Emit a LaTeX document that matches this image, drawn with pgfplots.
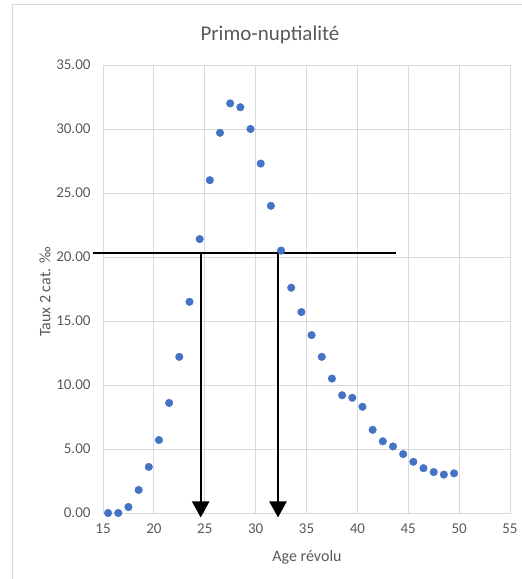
\documentclass[border=0pt]{standalone}
\usepackage{fontspec}
\setmainfont{Carlito}
\usepackage{pgfplots}
\pgfplotsset{compat=1.18}
\usetikzlibrary{arrows.meta}

\definecolor{dotblue}{RGB}{68,114,196}
\definecolor{gridgray}{RGB}{217,217,217}
\definecolor{txtgray}{RGB}{89,89,89}

\begin{document}
\begin{tikzpicture}[x=1pt,y=1pt]
% page frame, same size as the reference (522x579)
\useasboundingbox (-103,-66) rectangle (419,513);
\draw[gridgray, line width=0.8pt] (-91,509) -- (-91,-80) (-91,509) -- (430,509);

\begin{axis}[
    at={(0,0)}, anchor=south west,
    scale only axis,
    width=407pt, height=448pt,
    xmin=15, xmax=55, ymin=0, ymax=35,
    xtick={15,20,...,55},
    ytick={0,5,...,35},
    grid=major,
    major grid style={gridgray, line width=0.8pt},
    axis line style={gridgray, line width=0.8pt},
    major tick length=0pt,
    tick label style={txtgray, font=\fontsize{15}{15}\selectfont},
    xticklabel style={yshift=-7pt},
    yticklabel style={xshift=-9pt},
    yticklabel={\pgfmathprintnumber[fixed,fixed zerofill,precision=2]{\tick}},
    /pgf/number format/assume math mode=true,
    clip=false,
]
\addplot[only marks, mark=*, mark size=3.8pt, dotblue, mark options={draw=dotblue, fill=dotblue}] coordinates {
    (15.5,0.0) (16.5,0.0) (17.5,0.47) (18.5,1.8) (19.5,3.6)
    (20.5,5.7) (21.5,8.6) (22.5,12.2) (23.5,16.5) (24.5,21.4)
    (25.5,26.0) (26.5,29.7) (27.5,32.0) (28.5,31.7) (29.5,30.0)
    (30.5,27.3) (31.5,24.0) (32.5,20.5) (33.5,17.6) (34.5,15.7)
    (35.5,13.9) (36.5,12.2) (37.5,10.5) (38.5,9.2) (39.5,9.0)
    (40.5,8.3) (41.5,6.5) (42.5,5.6) (43.5,5.2) (44.5,4.6)
    (45.5,4.0) (46.5,3.5) (47.5,3.2) (48.5,3.0) (49.5,3.1)
};
% reading lines at 20.3 per mille
\draw[black, line width=2.2pt] (axis cs:14.0,20.3) -- (axis cs:43.8,20.3);
\draw[black, line width=2.2pt, -{Triangle[width=17pt,length=16pt]}] (axis cs:24.6,20.3) -- (axis cs:24.6,-0.35);
\draw[black, line width=2.2pt, -{Triangle[width=17pt,length=16pt]}] (axis cs:32.2,20.3) -- (axis cs:32.2,-0.35);
\end{axis}

\node[txtgray, font=\fontsize{21}{21}\selectfont] at (167,478) {Primo-nuptialité};
\node[txtgray, font=\fontsize{16}{16}\selectfont, rotate=90] at (-58,221) {Taux 2 cat. ‰};
\node[txtgray, font=\fontsize{16}{16}\selectfont] at (204,-44) {Age révolu};
\end{tikzpicture}
\end{document}
